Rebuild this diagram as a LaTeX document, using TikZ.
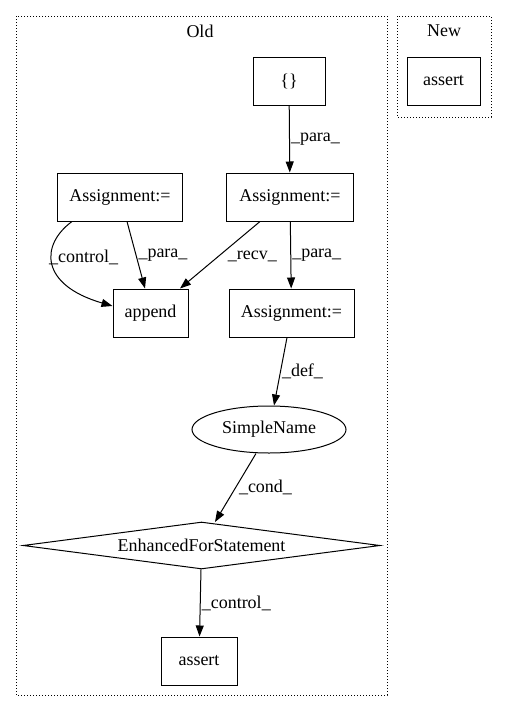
\documentclass[tikz,border=0pt]{standalone}
\usepackage{fontspec}
\setmainfont{Liberation Serif}
\usetikzlibrary{arrows.meta,shapes.geometric,calc}
\begin{document}
\begin{tikzpicture}[x=1pt,y=-1pt,
  every node/.style={font=\fontsize{18}{21}\selectfont},
  box/.style={draw,rectangle,minimum height=48pt,inner sep=0pt,line width=1pt},
  edge/.style={-{Triangle[length=11pt,width=8pt]},line width=1pt},
  lbl/.style={inner sep=1pt},
  cluster/.style={draw,dotted,line width=1pt}]
\useasboundingbox (0,0) rectangle (507,712);
\draw[cluster] (16,16) rectangle (387,695);
\draw[cluster] (397,16) rectangle (491,117);
\node (old) at (200,31) {Old};
\node (new) at (444,31) {New};
\node[box,minimum width=73pt] (nassert) at (443.5,81) {assert};
\node[box,minimum width=72pt] (brace) at (289,81) {\{\}};
\node[box,minimum width=127pt] (asgR) at (290,197) {Assignment:=};
\node[box,minimum width=125pt] (asgL) at (120,197) {Assignment:=};
\node[box,minimum width=75pt] (append) at (150.5,313) {append};
\node[box,minimum width=125pt] (asgD) at (291.5,313) {Assignment:=};
\node[draw,line width=1pt,ellipse,minimum width=154pt,minimum height=47pt,inner sep=0pt] (sn) at (269,429.5) {SimpleName};
\node[draw,line width=1pt,diamond,aspect=7.4,minimum width=357pt,minimum height=47pt,inner sep=0pt] (efs) at (201.5,545.5) {EnhancedForStatement};
\node[box,minimum width=76pt] (assert) at (199,661) {assert};
\draw[edge] (brace) -- node[lbl,right] {\_para\_} (asgR);
\draw[edge] ($(asgR.south)+(-30,0)$) -- node[lbl,pos=0.52,anchor=west,xshift=8pt] {\_recv\_} ($(append.north)+(29.5,0)$);
\draw[edge] (asgR) -- node[lbl,right] {\_para\_} (asgD);
\draw[edge] ($(asgL.south)+(7,0)$) -- node[lbl,pos=0.5,right,xshift=1pt] {\_para\_} ($(append.north)+(-5.5,0)$);
\draw[edge] ($(asgL.south)+(-48,0)$) .. controls (40,245) and (40,285) .. ($(append.west)+(0,-7)$) node[pos=0.42,lbl,right,xshift=-4pt] {\_control\_};
\draw[edge] ($(asgD.south)+(-4.5,0)$) -- node[lbl,right,xshift=0pt] {\_def\_} ($(sn.north)+(5,0)$);
\draw[edge] ($(sn.south)+(-13,0)$) -- node[lbl,right,xshift=2pt] {\_cond\_} ($(efs.north)+(13.5,0.5)$);
\draw[edge] (efs) -- node[lbl,right] {\_control\_} (assert);
\end{tikzpicture}
\end{document}
